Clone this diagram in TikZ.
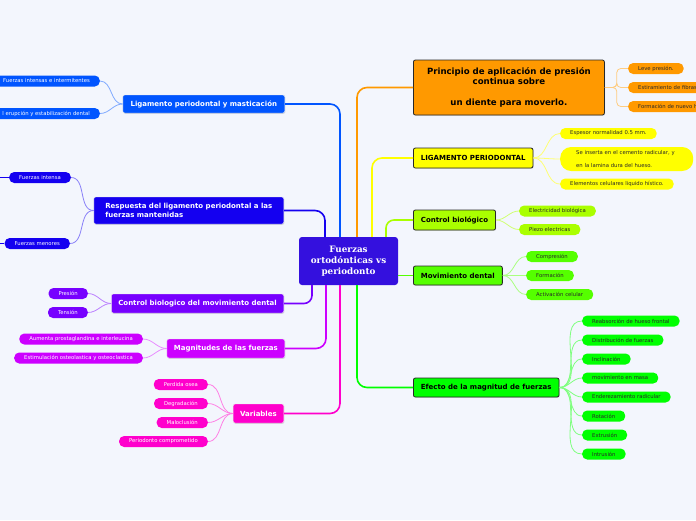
\documentclass[tikz,border=0pt]{standalone}
\usepackage{fontspec}
\setmainfont{DejaVu Sans}
\newfontfamily\rootfont{DejaVu Serif}
\usetikzlibrary{shadows}

\definecolor{bgcol}{RGB}{243,246,253}
\definecolor{cRoot}{RGB}{52,16,222}
\definecolor{cLig}{RGB}{0,85,255}
\definecolor{cResp}{RGB}{20,0,240}
\definecolor{cCtrl}{RGB}{119,0,255}
\definecolor{cMag}{RGB}{204,0,255}
\definecolor{cVar}{RGB}{255,0,204}
\definecolor{cPrin}{RGB}{255,153,0}
\definecolor{cLper}{RGB}{255,255,0}
\definecolor{cCbio}{RGB}{170,255,0}
\definecolor{cMov}{RGB}{85,255,0}
\definecolor{cEfec}{RGB}{0,255,0}
\definecolor{darktext}{RGB}{40,40,40}

\tikzset{
  rootbox/.style={fill=cRoot, text=white, rounded corners=3pt, align=center,
    minimum width=99pt, minimum height=48pt,
    font=\rootfont\bfseries\fontsize{8.8}{11}\selectfont},
  topicL/.style={text=white, draw=white!85!gray, line width=0.4pt, rounded corners=2pt,
    inner xsep=7pt, inner ysep=0pt, minimum height=19pt,
    font=\bfseries\fontsize{7}{8.5}\selectfont,
    drop shadow={opacity=0.25, shadow xshift=0.6pt, shadow yshift=-0.8pt}},
  topicR/.style={text=black, draw=darktext, line width=0.8pt, rounded corners=2pt,
    inner xsep=7.5pt, inner ysep=0pt, minimum height=19pt,
    font=\bfseries\fontsize{7}{8.5}\selectfont,
    drop shadow={opacity=0.25, shadow xshift=0.6pt, shadow yshift=-0.8pt}},
  leafL/.style={text=white, rounded corners=5pt, inner xsep=10pt, inner ysep=0pt,
    minimum height=11pt, font=\fontsize{5.3}{6.5}\selectfont},
  leafR/.style={leafL, text=darktext},
  trunk/.style={line width=1.6pt, rounded corners=10pt},
  twig/.style={line width=0.8pt},
}

\begin{document}
\begin{tikzpicture}[x=1pt, y=-1pt]

    \fill [bgcol] (0,0) rectangle (696,520);
    \useasboundingbox (0,0) rectangle (696,520);
    \clip (0,0) rectangle (696,520);

    % central topic
    \node [rootbox] (root) at (348.5,261) {Fuerzas\\ortodónticas vs\\periodonto};

    % left topics
    \node [topicL, fill=cLig, anchor=east, minimum height=18pt, minimum width=162pt] (ligmast) at (285,104) {Ligamento periodontal y masticación};
    \node [topicL, fill=cResp, anchor=east, minimum height=27pt, minimum width=190pt, align=left] (resp) at (284,210.5) {Respuesta del ligamento periodontal a las\\fuerzas mantenidas};
    \node [topicL, fill=cCtrl, anchor=east] (ctrlmov) at (284,303.5) {Control biologico del movimiento dental};
    \node [topicL, fill=cMag, anchor=east] (magn) at (285,348.5) {Magnitudes de las fuerzas};
    \node [topicL, fill=cVar, anchor=east] (vari) at (284,413.5) {Variables};

    % right topics
    \node [topicR, fill=cPrin, anchor=west, minimum width=191pt, minimum height=55pt, align=center,
        font=\bfseries\fontsize{8.6}{10.5}\selectfont] (prin) at (413,87.5) {Principio de aplicación de presión\\continua sobre\\[10.5pt]un diente para moverlo.};
    \node [topicR, fill=cLper, anchor=west, minimum height=20pt] (ligper) at (413,158) {LIGAMENTO PERIODONTAL};
    \node [topicR, fill=cCbio, anchor=west, minimum height=20pt] (cbio) at (413,220) {Control biológico};
    \node [topicR, fill=cMov, anchor=west] (mov) at (413,275.5) {Movimiento dental};
    \node [topicR, fill=cEfec, anchor=west] (efec) at (413,387.5) {Efecto de la magnitud de fuerzas};

    % trunks
    \draw [trunk, cLig] (ligmast.east) -| ([xshift=-8.5pt]root.north);
    \draw [trunk, cResp] (resp.east) -| ([xshift=-23.5pt]root.north);
    \draw [trunk, cCtrl, rounded corners=8pt] (ctrlmov.east) -| ([xshift=-36.5pt]root.south);
    \draw [trunk, cMag] (magn.east) -| ([xshift=-22.5pt]root.south);
    \draw [trunk, cVar] (vari.east) -| ([xshift=-8.5pt]root.south);
    \draw [trunk, cPrin] (prin.west) -| ([xshift=8.5pt]root.north);
    \draw [trunk, cLper] (ligper.west) -| ([xshift=23.5pt]root.north);
    \draw [trunk, cCbio, rounded corners=8pt] (cbio.west) -| ([xshift=37.5pt]root.north);
    \draw [trunk, cMov] (mov.west) -- (mov.west -| root.east);
    \draw [trunk, cEfec] (efec.west) -| ([xshift=8.5pt]root.south);

    % leaves: ligamento y masticacion
    \node [leafL, fill=cLig, anchor=east] (fii) at (100,81) {Fuerzas intensas e intermitentes};
    \node [leafL, fill=cLig, anchor=east] (erup) at (100,113.5) {l erupción y estabilización dental};
    \foreach \leaf in {fii,erup}
        \draw [twig, cLig!50] (\leaf.east) to[out=0,in=180] (ligmast.west);

    % leaves: respuesta
    \node [leafL, fill=cResp, anchor=east] (fintensa) at (71,177.5) {Fuerzas intensa};
    \node [leafL, fill=cResp, anchor=east] (fmen) at (70,243.5) {Fuerzas menores};
    \foreach \leaf in {fintensa,fmen} {
        \draw [twig, cResp!50] (\leaf.east) to[out=0,in=180] (resp.west);
        \draw [twig, cResp] (\leaf.west) -- ++(-12,0);
    }

    % leaves: control biologico del movimiento
    \node [leafL, fill=cCtrl, anchor=east] (pres) at (88,293.5) {Presión};
    \node [leafL, fill=cCtrl, anchor=east] (tens) at (88,312.5) {Tensión};
    \foreach \leaf in {pres,tens}
        \draw [twig, cCtrl!50] (\leaf.east) to[out=0,in=180] (ctrlmov.west);

    % leaves: magnitudes
    \node [leafL, fill=cMag, anchor=east] (aum) at (143,339) {Aumenta prostaglandina e interleucina};
    \node [leafL, fill=cMag, anchor=east] (estim) at (143,358) {Estimulación osteolastica y osteoclastica};
    \foreach \leaf in {aum,estim}
        \draw [twig, cMag!45] (\leaf.east) to[out=0,in=180] (magn.west);

    % leaves: variables
    \node [leafL, fill=cVar, anchor=east] (perd) at (208,384.5) {Perdida osea};
    \node [leafL, fill=cVar, anchor=east] (degr) at (208,403.5) {Degradación};
    \node [leafL, fill=cVar, anchor=east] (malo) at (208,422.5) {Maloclusión};
    \node [leafL, fill=cVar, anchor=east] (perio) at (208,441.5) {Periodonto comprometido};
    \foreach \leaf in {perd,degr,malo,perio}
        \draw [twig, cVar!50] (\leaf.east) to[out=0,in=180] (vari.west);

    % leaves: principio
    \node [leafR, fill=cPrin, anchor=west] (leve) at (628,68.5) {Leve presión.};
    \node [leafR, fill=cPrin, anchor=west, text width=80pt, align=left] (estir) at (628,87.5) {Estiramiento de fibras};
    \node [leafR, fill=cPrin, anchor=west, text width=80pt, align=left] (form) at (628,106.5) {Formación de nuevo h};
    \foreach \leaf in {leve,estir,form}
        \draw [twig, cPrin!50, rounded corners=4pt] (prin.east) -- ++(12,0) |- (\leaf.west);

    % leaves: ligamento periodontal
    \node [leafR, fill=cLper, anchor=west] (esp) at (560,133.5) {Espesor normalidad 0.5 mm.};
    \node [leafR, fill=cLper, anchor=west, inner xsep=16pt, rounded corners=11pt, minimum height=24pt,
        text width=101pt, align=left, font=\fontsize{5.3}{13}\selectfont] (sein) at (560,159) {Se inserta en el cemento radicular, y\\en la lamina dura del hueso.};
    \node [leafR, fill=cLper, anchor=west] (elem) at (560,184) {Elementos celulares liquido hístico.};
    \foreach \leaf in {esp,sein,elem}
        \draw [twig, cLper!55] (ligper.east) to[out=0,in=180] (\leaf.west);

    % leaves: control biologico
    \node [leafR, fill=cCbio, anchor=west] (elec) at (519,211) {Electricidad biológica};
    \node [leafR, fill=cCbio, anchor=west] (piezo) at (519,229.5) {Piezo electricas};
    \foreach \leaf in {elec,piezo}
        \draw [twig, cCbio!55] (cbio.east) to[out=0,in=180] (\leaf.west);

    % leaves: movimiento dental
    \node [leafR, fill=cMov, anchor=west] (comp) at (526,256.5) {Compresión};
    \node [leafR, fill=cMov, anchor=west] (formac) at (526,275.5) {Formación};
    \node [leafR, fill=cMov, anchor=west] (activ) at (526,294.5) {Activación celular};
    \foreach \leaf in {comp,formac,activ}
        \draw [twig, cMov!50] (mov.east) to[out=0,in=180] (\leaf.west);

    % leaves: efecto de la magnitud
    \node [leafR, fill=cEfec, anchor=west] (reab) at (582,321) {Reabsorción de hueso frontal};
    \node [leafR, fill=cEfec, anchor=west] (dist) at (582,340) {Distribución de fuerzas};
    \node [leafR, fill=cEfec, anchor=west] (incl) at (582,359) {Inclinación};
    \node [leafR, fill=cEfec, anchor=west] (movm) at (582,378) {movimiento en masa};
    \node [leafR, fill=cEfec, anchor=west] (ender) at (582,397) {Enderezamiento radicular};
    \node [leafR, fill=cEfec, anchor=west] (rot) at (582,416) {Rotación};
    \node [leafR, fill=cEfec, anchor=west] (extr) at (582,435) {Extrusión};
    \node [leafR, fill=cEfec, anchor=west] (intr) at (582,454) {Intrusión};
    \foreach \leaf in {reab,dist,incl,movm,ender,rot,extr,intr}
        \draw [twig, cEfec!50] (efec.east) to[out=0,in=180] (\leaf.west);

\end{tikzpicture}
\end{document}
